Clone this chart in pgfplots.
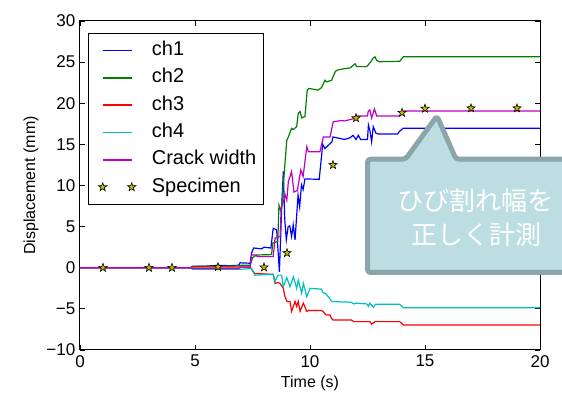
\documentclass[border=0pt]{standalone}
\usepackage{fontspec}
\setmainfont{Liberation Sans}
\newfontfamily\cjk{Noto Sans CJK JP}
\usepackage{pgfplots}
\pgfplotsset{compat=1.18}
\definecolor{mplb}{HTML}{0000FF}
\definecolor{mplg}{HTML}{008000}
\definecolor{mplr}{HTML}{FF0000}
\definecolor{mplc}{HTML}{00BFBF}
\definecolor{mplm}{HTML}{BF00BF}
\definecolor{mply}{HTML}{BFBF00}
\definecolor{boxfill}{RGB}{188,222,226}
\definecolor{boxdraw}{RGB}{140,165,168}
\pgfdeclareplotmark{fstar}{%
 \pgfpathmoveto{\pgfpointpolar{90}{\pgfplotmarksize}}%
 \pgfpathlineto{\pgfpointpolar{126}{0.4*\pgfplotmarksize}}%
 \pgfpathlineto{\pgfpointpolar{162}{\pgfplotmarksize}}%
 \pgfpathlineto{\pgfpointpolar{198}{0.4*\pgfplotmarksize}}%
 \pgfpathlineto{\pgfpointpolar{234}{\pgfplotmarksize}}%
 \pgfpathlineto{\pgfpointpolar{270}{0.4*\pgfplotmarksize}}%
 \pgfpathlineto{\pgfpointpolar{306}{\pgfplotmarksize}}%
 \pgfpathlineto{\pgfpointpolar{342}{0.4*\pgfplotmarksize}}%
 \pgfpathlineto{\pgfpointpolar{18}{\pgfplotmarksize}}%
 \pgfpathlineto{\pgfpointpolar{54}{0.4*\pgfplotmarksize}}%
 \pgfpathclose
 \pgfusepathqfillstroke}
\pgfplotsset{
  linelegend/.style={legend image code/.code={\path (0pt,0pt); \draw[##1, line width=1.5pt] (6.7pt,0pt) -- (35.7pt,0pt);}},
  starlegend/.style={legend image code/.code={\path (0pt,0pt); \draw[##1] plot coordinates {(6.7pt,0pt) (35.7pt,0pt)};}},
}
\begin{document}
\begin{tikzpicture}[x=1pt,y=1pt]
\useasboundingbox (0,0) rectangle (562,393);
\begin{axis}[
  at={(80pt,43pt)}, anchor=south west,
  scale only axis, width=460pt, height=329pt,
  xmin=0, xmax=20, ymin=-10, ymax=30,
  xtick={0,5,10,15,20}, ytick={-10,-5,0,5,10,15,20,25,30},
  xticklabels={0,5,10,15,20},
  yticklabels={−10,−5,0,5,10,15,20,25,30},
  tick align=inside, tick pos=both, major tick length=5pt,
  every tick/.style={black, line width=0.8pt},
  axis line style={line width=1pt},
  tick label style={font=\fontsize{17}{17}\selectfont},
  xticklabel style={inner sep=0pt, yshift=-5pt},
  yticklabel style={inner sep=0pt, xshift=-4.5pt},
  xlabel={Time (s)}, ylabel={Displacement (mm)},
  label style={font=\fontsize{16}{16}\selectfont},
  xlabel style={at={(axis description cs:0.5,-0.1003)}, anchor=center},
  ylabel style={at={(axis description cs:-0.1065,0.5)}, anchor=center},
  legend style={at={(rel axis cs:0.0174,0.9644)}, anchor=north west,
    draw=black, line width=0.8pt, fill=white,
    inner xsep=7pt, inner ysep=8pt,
    font=\fontsize{20}{20}\selectfont,
    nodes={inner sep=0pt, text height=14.5pt, text depth=4.5pt},
    row sep=8.3pt, /tikz/column 1/.style={column sep=16pt}},
  legend cell align=left,
  linelegend,
  every axis plot/.append style={line width=1.2pt},
]
\addplot[mplb] coordinates {(0,0) (4.8,0) (4.9,0.15) (5.5,0.2) (6.0,0.3) (6.5,0.25) (6.9,0.3) (6.96,0.6) (7.4,0.55) (7.46,1.8) (7.55,2.4) (7.9,2.3) (8.0,2.5) (8.3,2.4) (8.4,4.8) (8.55,4.6) (8.6,2.5) (8.67,-0.5) (8.77,7.4) (8.84,11.7) (8.9,6) (8.97,3.4) (9.05,5.0) (9.12,5.1) (9.2,3.8) (9.27,5.2) (9.35,3.4) (9.48,8.85) (9.55,7.4) (9.63,10.1) (9.7,9.5) (9.78,10.8) (10.4,10.75) (10.5,13.5) (10.55,15.0) (10.65,14.5) (10.95,15.3) (11.0,15.9) (11.5,15.6) (11.74,15.8) (11.87,16.1) (12.0,15.6) (12.1,16.1) (12.2,15.6) (12.5,15.6) (12.54,17.35) (12.61,16.6) (12.68,15.3) (12.75,17.15) (12.87,16.35) (13.0,16.25) (13.8,16.25) (13.9,16.6) (14.05,16.95) (20,16.95)};
\addlegendentry{ch1}
\addplot[mplg] coordinates {(0,0) (4.8,0) (4.9,0.2) (6.5,0.2) (6.9,0.25) (7.0,0.3) (7.4,0.3) (7.5,1.2) (7.67,1.55) (8.33,1.6) (8.38,3.0) (8.6,3.2) (8.65,7.6) (8.72,7.0) (8.76,7.2) (8.99,15.5) (9.06,15.9) (9.2,16.95) (9.27,16.8) (9.42,17.15) (9.49,18.8) (9.57,19.0) (9.64,18.2) (9.78,18.4) (9.88,21.6) (9.95,21.8) (10.36,21.6) (10.5,21.9) (10.65,22.8) (10.72,22.6) (10.94,22.8) (11.09,23.8) (11.16,24.0) (11.3,24.1) (11.5,24.2) (11.75,24.3) (11.96,24.8) (12.03,24.45) (12.47,24.45) (12.6,24.9) (12.75,25.5) (12.82,25.65) (12.9,25.2) (13.0,25.05) (13.9,25.1) (14.06,25.66) (20,25.66)};
\addlegendentry{ch2}
\addplot[mplr] coordinates {(0,0) (4.8,0) (4.9,0.1) (6.9,0.1) (7.4,0.05) (7.6,-0.7) (8.4,-0.8) (8.48,-1.9) (8.6,-1.8) (8.7,-1.9) (8.84,-2.5) (8.91,-3.5) (9.0,-4.1) (9.13,-4.1) (9.2,-5.3) (9.35,-4.1) (9.42,-4.7) (9.49,-4.1) (9.57,-5.3) (9.71,-4.3) (9.86,-5.3) (9.93,-5.2) (10.5,-5.2) (10.56,-5.3) (10.7,-5.75) (10.87,-5.75) (10.94,-6.2) (11.0,-6.35) (11.8,-6.35) (11.9,-6.55) (12.6,-6.55) (12.68,-6.85) (12.83,-6.55) (13.9,-6.55) (14.06,-6.96) (20,-6.96)};
\addlegendentry{ch3}
\addplot[mplc] coordinates {(0,0) (4.8,0) (4.9,-0.2) (6.9,-0.2) (7.46,-0.1) (7.6,-0.9) (8.4,-0.8) (8.48,-1.7) (8.6,-0.9) (8.77,-0.9) (8.84,-2.3) (8.99,-1.2) (9.13,-2.3) (9.28,-1.1) (9.42,-2.5) (9.49,-1.5) (9.64,-3.1) (9.71,-1.9) (9.86,-3.5) (10.0,-2.5) (10.5,-2.6) (10.56,-3.0) (10.7,-3.2) (10.87,-3.8) (10.94,-4.1) (11.8,-4.2) (11.9,-4.4) (12.0,-4.3) (12.47,-4.4) (12.54,-4.7) (12.6,-4.3) (12.75,-4.8) (12.85,-4.45) (13.9,-4.45) (14.06,-4.86) (20,-4.86)};
\addlegendentry{ch4}
\addplot[mplm] coordinates {(0,0) (4.8,0) (4.9,-0.1) (6.9,-0.1) (7.0,0.1) (7.4,0.1) (7.46,1.55) (7.67,1.55) (7.7,1.35) (8.4,1.35) (8.48,3.6) (8.7,3.8) (8.75,7.4) (8.84,8.0) (8.92,8.85) (8.99,8.2) (9.06,10.5) (9.2,11.7) (9.3,9.2) (9.45,9.4) (9.6,11.9) (9.7,11.1) (9.86,14.7) (9.93,14.1) (10.43,14.1) (10.58,15.9) (10.87,15.9) (11.01,17.75) (11.35,17.9) (11.5,17.85) (11.87,18.1) (12.0,18.45) (12.5,18.45) (12.53,19.0) (12.6,19.2) (12.68,18.2) (12.8,19.3) (12.9,18.45) (13.9,18.45) (14.06,19.06) (20,19.06)};
\addlegendentry{Crack width}
\addplot[only marks, mark=fstar, mark size=4.4pt, mark options={fill=mply, draw=black, line width=0.6pt}, starlegend]
  coordinates {(1,0) (3,0) (4,0) (6,0.1) (8,0.05) (9,1.8) (11,12.5) (12,18.2) (14,18.85) (15,19.35) (17,19.4) (19,19.4)};
\addlegendentry{Specimen}
\end{axis}
\draw[boxdraw, fill=boxfill, line width=5pt, rounded corners=3pt, line join=round]
  (367.5,233.8) -- (405.5,233.8) -- (437,277) -- (456,233.8) -- (600,233.8)
  -- (600,120.5) -- (367.5,120.5) -- cycle;
\node[white, font=\cjk\fontsize{26}{26}\selectfont, anchor=center] at (475,192) {ひび割れ幅を};
\node[white, font=\cjk\fontsize{26}{26}\selectfont, anchor=center] at (476,158) {正しく計測};
\end{tikzpicture}
\end{document}
